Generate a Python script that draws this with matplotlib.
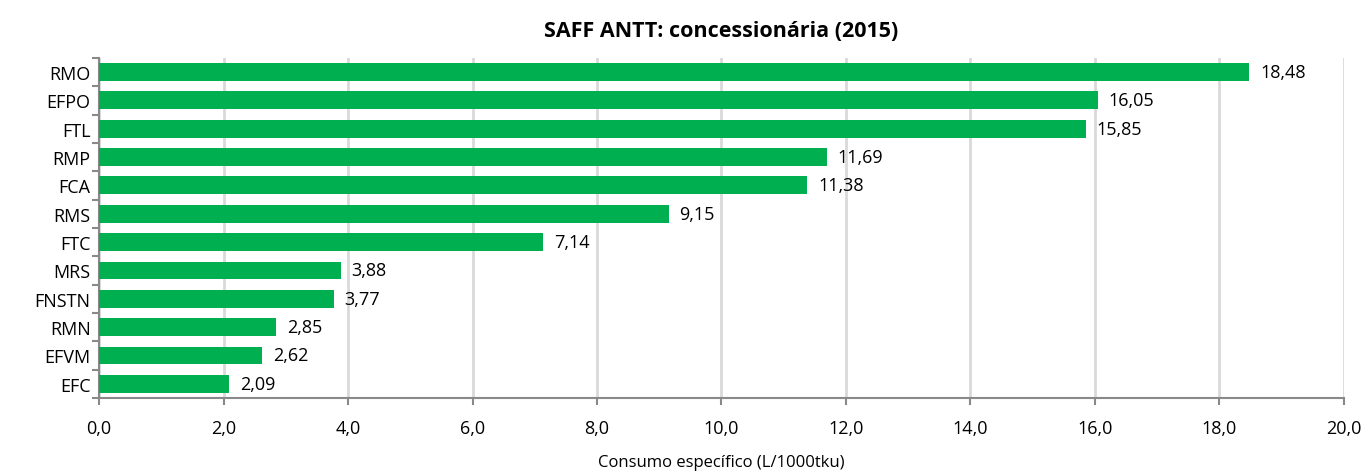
import matplotlib
matplotlib.use('Agg')
import matplotlib.pyplot as plt
import numpy as np

plt.rcParams['font.family'] = ['Open Sans', 'DejaVu Sans']

concessionarias = ['RMO', 'EFPO', 'FTL', 'RMP', 'FCA', 'RMS', 'FTC',
                   'MRS', 'FNSTN', 'RMN', 'EFVM', 'EFC']
consumo = [18.48, 16.05, 15.85, 11.69, 11.38, 9.15, 7.14,
           3.88, 3.77, 2.85, 2.62, 2.09]
xticks = [0, 2, 4, 6, 8, 10, 12, 14, 16, 18, 20]

fig = plt.figure(figsize=(13.64, 4.77), dpi=100)
ax = fig.add_axes([0.0726, 0.1635, 0.9127, 0.7191 - 0.006])

pos = np.arange(len(concessionarias))[::-1]
ax.barh(pos, consumo, height=0.63, color='#00B050', zorder=3)

for p, v in zip(pos, consumo):
    ax.text(v + 0.17, p, f'{v:.2f}'.replace('.', ','), va='center', ha='left',
            fontsize=13, color='black')

ax.set_xlim(0, 20)
ax.set_ylim(-0.5, len(concessionarias) - 0.5)
ax.set_xticks(xticks)
ax.set_xticklabels([f'{t:.1f}'.replace('.', ',') for t in xticks], fontsize=13)
ax.set_yticks(pos)
ax.set_yticklabels(concessionarias, fontsize=13)
ax.set_yticks(np.arange(-0.5, len(concessionarias)), minor=True)
ax.tick_params(axis='y', which='major', length=0, pad=6)
ax.tick_params(axis='y', which='minor', length=5, width=1.5, color='#898989')
ax.tick_params(axis='x', which='major', length=5, width=1.5, color='#898989', pad=10)

ax.grid(axis='x', color='#D9D9D9', linewidth=2, zorder=0)
for s in ['top', 'right']:
    ax.spines[s].set_visible(False)
for s in ['left', 'bottom']:
    ax.spines[s].set_color('#898989')
    ax.spines[s].set_linewidth(1.5)

ax.set_title('SAFF ANTT: concessionária (2015)', fontsize=15.5, fontweight='bold', pad=16)
ax.set_xlabel('Consumo específico (L/1000tku)', fontsize=12, labelpad=12)

fig.savefig('out.png', dpi=100)
